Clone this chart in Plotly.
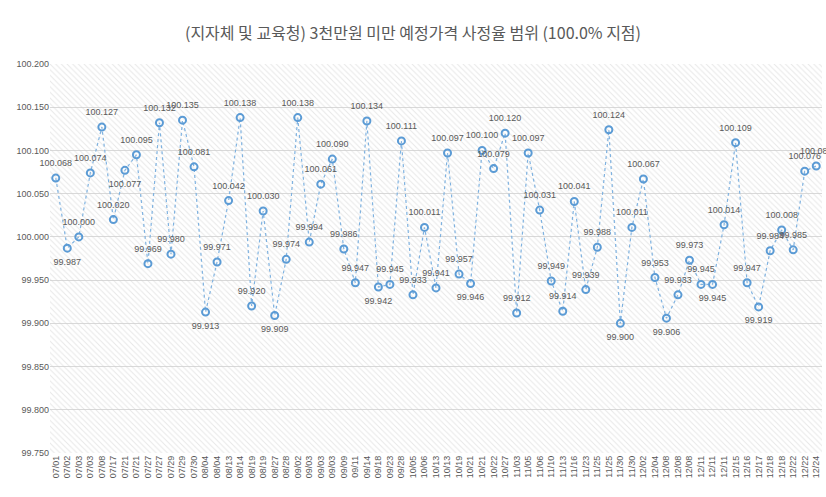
import plotly.graph_objects as go

dates = ["07/01","07/02","07/03","07/03","07/08","07/17","07/21","07/21","07/27","07/27",
         "07/29","07/29","07/30","08/04","08/04","08/13","08/14","08/19","08/19","08/27",
         "08/28","09/02","09/03","09/03","09/03","09/09","09/11","09/14","09/18","09/23",
         "09/28","10/05","10/06","10/13","10/13","10/19","10/21","10/21","10/22","10/27",
         "11/03","11/05","11/06","11/10","11/13","11/16","11/23","11/25","11/25","11/30",
         "11/30","12/02","12/04","12/08","12/08","12/08","12/11","12/11","12/11","12/15",
         "12/16","12/17","12/18","12/18","12/22","12/22","12/24"]

values = [100.068, 99.987, 100.000, 100.074, 100.127, 100.020, 100.077, 100.095, 99.969, 100.132,
          99.980, 100.135, 100.081, 99.913, 99.971, 100.042, 100.138, 99.920, 100.030, 99.909,
          99.974, 100.138, 99.994, 100.061, 100.090, 99.986, 99.947, 100.134, 99.942, 99.945,
          100.111, 99.933, 100.011, 99.941, 100.097, 99.957, 99.946, 100.100, 100.079, 100.120,
          99.912, 100.097, 100.031, 99.949, 99.914, 100.041, 99.939, 99.988, 100.124, 99.900,
          100.011, 100.067, 99.953, 99.906, 99.933, 99.973, 99.945, 99.945, 100.014, 100.109,
          99.947, 99.919, 99.984, 100.008, 99.985, 100.076, 100.082]

y_ticks = [99.75, 99.80, 99.85, 99.90, 99.95, 100.00, 100.05, 100.10, 100.15, 100.20]

title_text = "(지자체 및 교육청) 3천만원 미만 예정가격 사정율 범위 (100.0% 지점)"

# label placement (style)
below_idx = {1, 6, 13, 19, 28, 36, 49, 53, 57, 61}
text_pos = ["bottom center" if i in below_idx else "top center" for i in range(len(values))]

idx = list(range(len(values)))
labels = [f"{v:.3f}" for v in values]

small_font = dict(family="Liberation Sans, Arial, sans-serif", size=9, color="#595959")

fig = go.Figure()

# hatched plot-area background
fig.add_trace(go.Bar(
    x=[0], y=[1], width=[1], xaxis="x", yaxis="y",
    marker=dict(color="rgba(0,0,0,0)", line=dict(width=0),
                pattern=dict(shape="\\", fgcolor="#d0d0d0", bgcolor="rgba(0,0,0,0)",
                             size=4, solidity=0.25, fillmode="overlay")),
    hoverinfo="skip", showlegend=False,
))

fig.add_trace(go.Scatter(
    x=idx, y=values, xaxis="x2", yaxis="y2",
    mode="lines+markers",
    line=dict(color="#7FB2E0", width=1.2, dash="dot"),
    marker=dict(symbol="circle-open", size=7, color="#5B9BD5", line=dict(width=2, color="#5B9BD5")),
    cliponaxis=False, showlegend=False,
))

# data labels, offset further from markers via an invisible larger marker
fig.add_trace(go.Scatter(
    x=idx, y=values, xaxis="x2", yaxis="y2",
    mode="markers+text",
    marker=dict(size=14, color="rgba(0,0,0,0)"),
    text=labels, textposition=text_pos,
    textfont=small_font,
    cliponaxis=False, showlegend=False, hoverinfo="skip",
))

fig.update_layout(
    width=826, height=497,
    margin=dict(l=50, r=4, t=64, b=44, autoexpand=False),
    paper_bgcolor="white", plot_bgcolor="white",
    title=dict(text=title_text, x=0.5, xanchor="center", y=1 - 33/497, yref="container", yanchor="middle",
               font=dict(family="Noto Sans CJK KR", size=16, color="#595959")),
    xaxis=dict(visible=False, range=[-0.5, 0.5], domain=[0, 1]),
    yaxis=dict(visible=False, range=[0, 1], domain=[0, 1]),
    xaxis2=dict(overlaying="x", side="bottom", range=[-0.5, len(values) - 0.5],
                tickmode="array", tickvals=idx, ticktext=dates, tickangle=-90,
                tickfont=small_font, automargin=False,
                showgrid=False, zeroline=False, showline=False, ticks=""),
    yaxis2=dict(overlaying="y", side="left", range=[99.75, 100.2], tickmode="array",
                tickvals=y_ticks, ticktext=[f"{t:.3f}" for t in y_ticks],
                tickfont=small_font, automargin=False,
                showgrid=True, gridcolor="#d9d9d9", gridwidth=1, zeroline=False, showline=False, ticks=""),
    bargap=0,
)

fig.write_html("out.html", config={"displayModeBar": False},
               post_script="document.body.style.margin='0';document.body.style.overflow='hidden';")
